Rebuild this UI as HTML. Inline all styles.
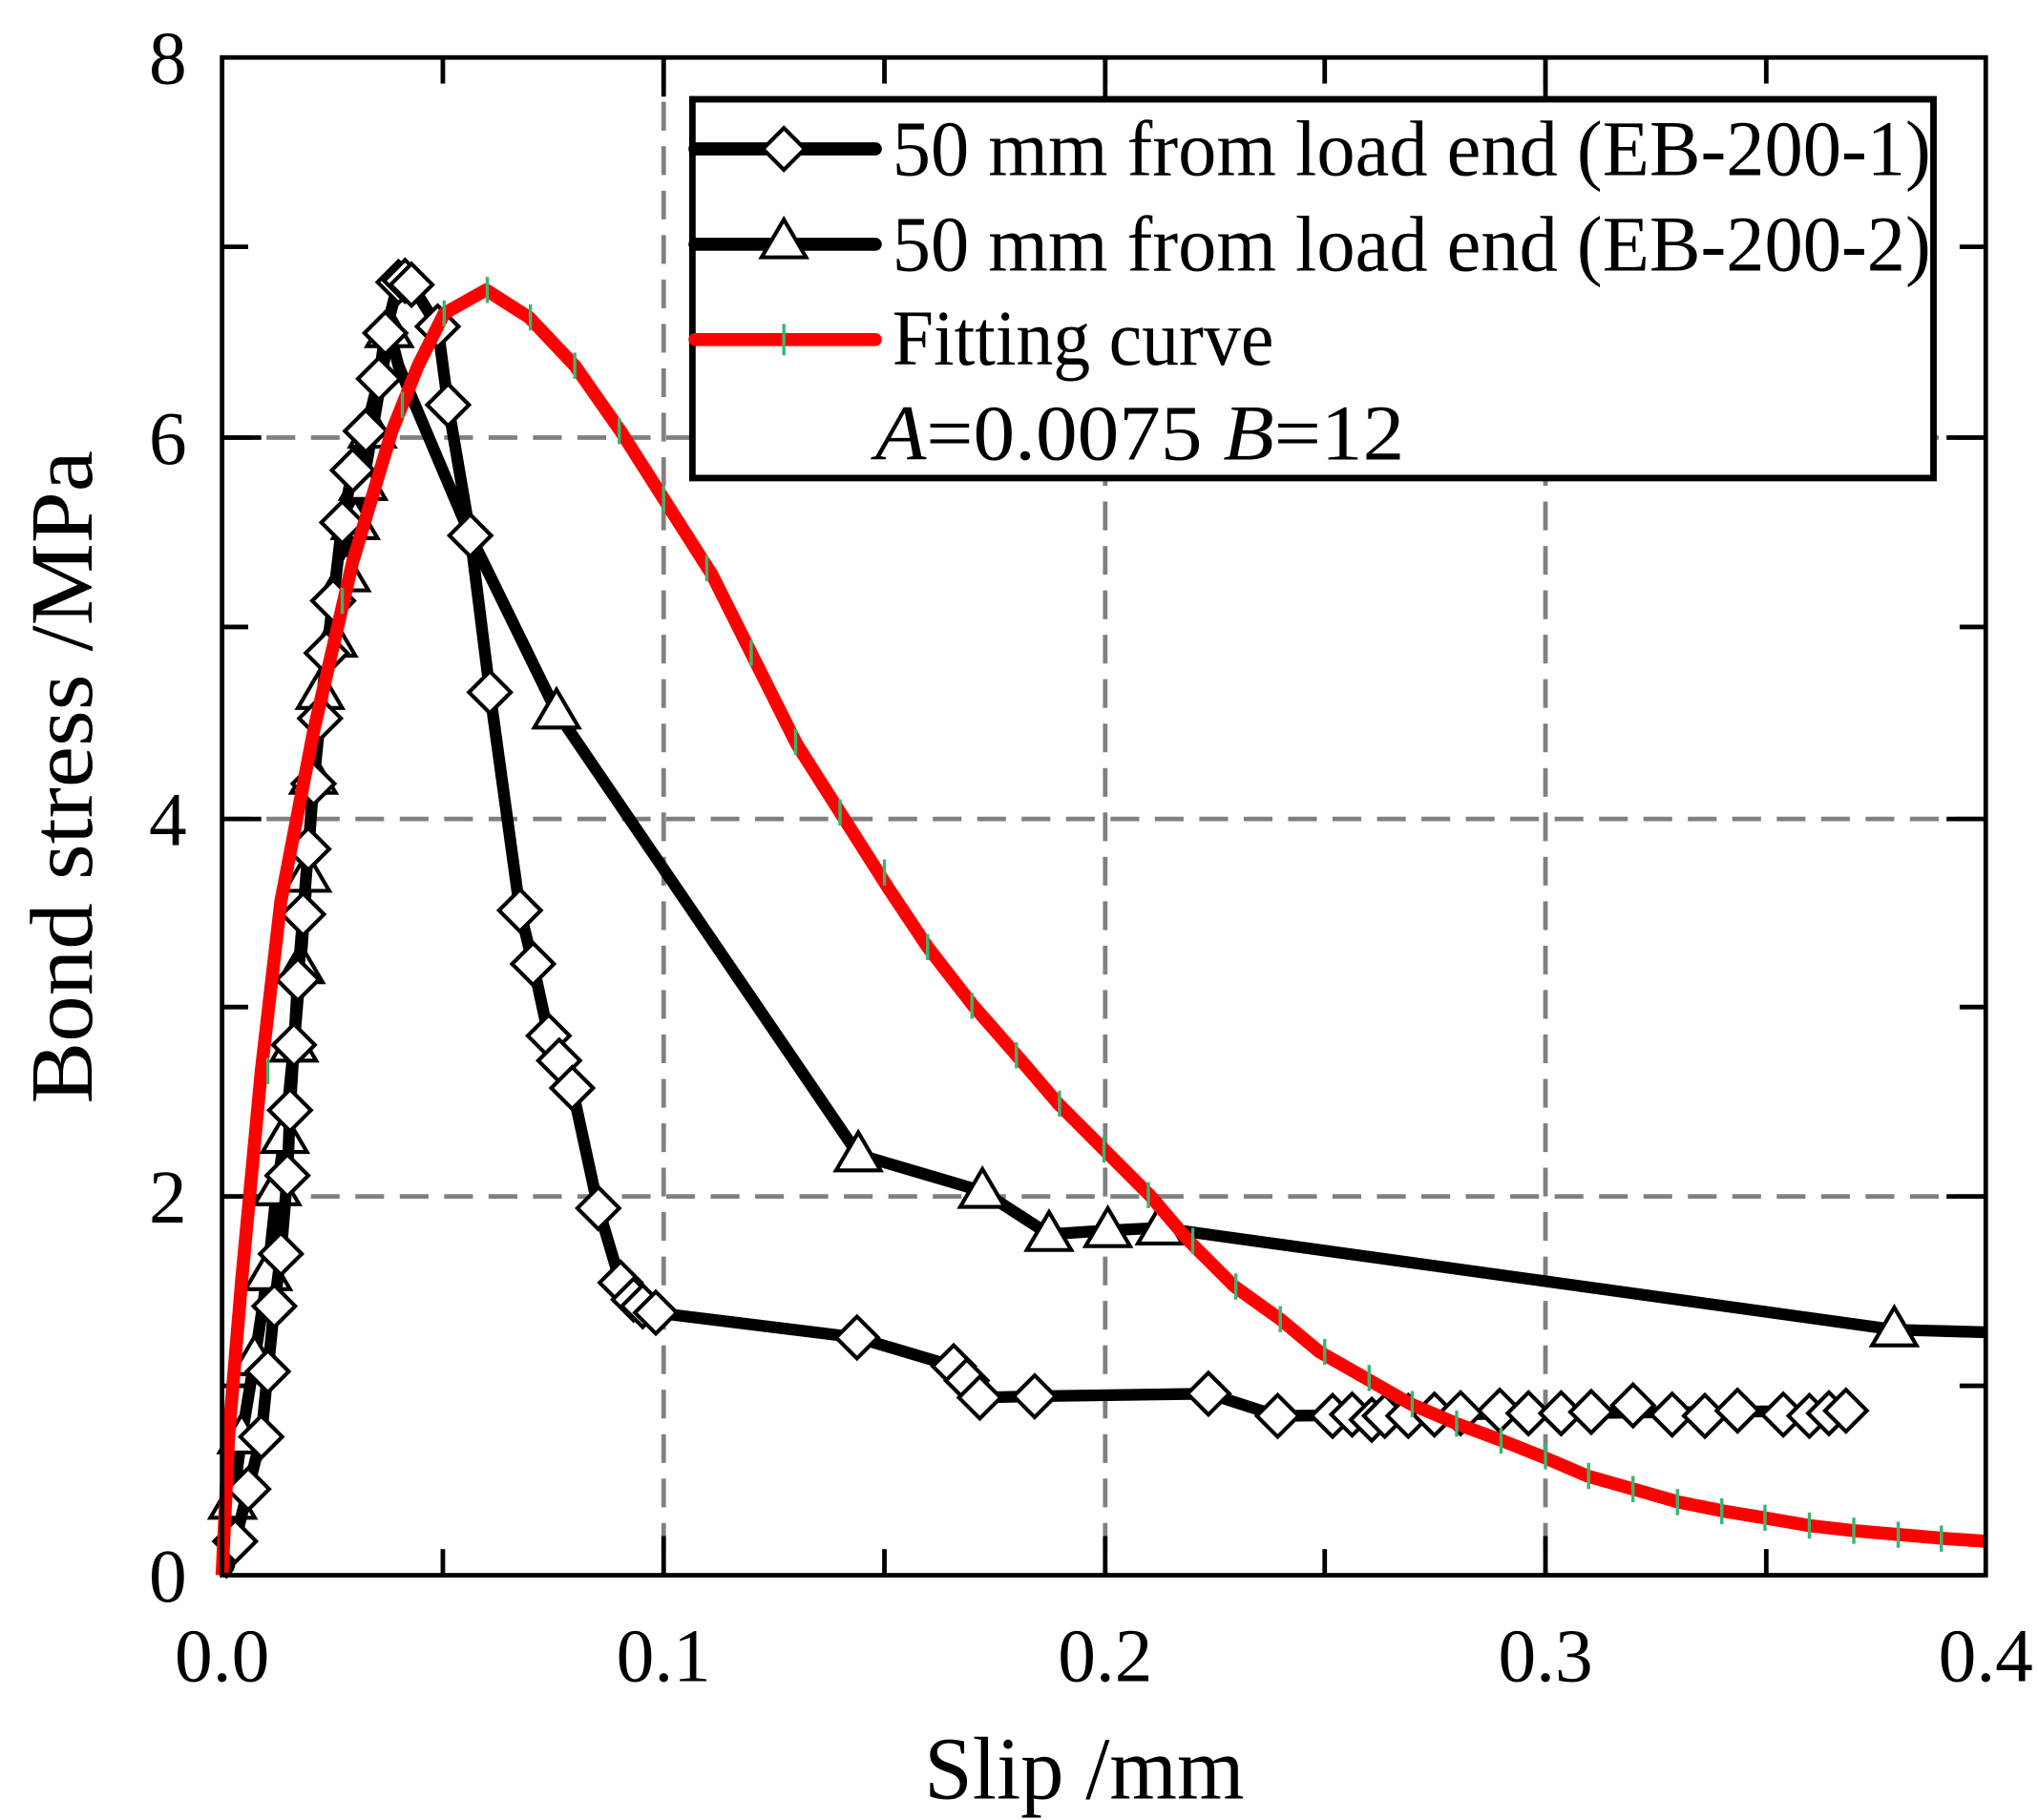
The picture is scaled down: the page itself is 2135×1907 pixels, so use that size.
<!DOCTYPE html>
<html><head><meta charset="utf-8"><style>html,body{margin:0;padding:0;background:#fff}svg{display:block}</style></head>
<body>
<svg xmlns="http://www.w3.org/2000/svg" width="2135" height="1907" viewBox="0 0 1560 1393.4" font-family="Liberation Serif, serif">
<defs>
<path id="dm" d="M0,-16 L16,0 L0,16 L-16,0 Z" fill="#fff" stroke="#000" stroke-width="3"/>
<path id="tr" d="M0,-17 L17,12 L-17,12 Z" fill="#fff" stroke="#000" stroke-width="3"/>
</defs>
<rect width="1560" height="1393.4" fill="#fff"/>
<g stroke="#808080" stroke-width="3.5" stroke-dasharray="22,12" fill="none">
<line x1="508" y1="44" x2="508" y2="1206"/><line x1="846" y1="44" x2="846" y2="1206"/><line x1="1183" y1="44" x2="1183" y2="1206"/>
<line x1="170" y1="335" x2="1520" y2="335"/><line x1="170" y1="627" x2="1520" y2="627"/><line x1="170" y1="916" x2="1520" y2="916"/>
</g>
<g stroke="#000" stroke-width="3.5">
<line x1="170" y1="189" x2="190" y2="189"/><line x1="170" y1="480" x2="190" y2="480"/><line x1="170" y1="771" x2="190" y2="771"/><line x1="170" y1="1061" x2="190" y2="1061"/>
<line x1="170" y1="335" x2="200" y2="335"/><line x1="170" y1="627" x2="200" y2="627"/><line x1="170" y1="916" x2="200" y2="916"/>
<line x1="1500" y1="189" x2="1520" y2="189"/><line x1="1500" y1="480" x2="1520" y2="480"/><line x1="1500" y1="771" x2="1520" y2="771"/><line x1="1500" y1="1061" x2="1520" y2="1061"/>
<line x1="1490" y1="335" x2="1520" y2="335"/><line x1="1490" y1="627" x2="1520" y2="627"/><line x1="1490" y1="916" x2="1520" y2="916"/>
<line x1="339" y1="1206" x2="339" y2="1186"/><line x1="677" y1="1206" x2="677" y2="1186"/><line x1="1014" y1="1206" x2="1014" y2="1186"/><line x1="1352" y1="1206" x2="1352" y2="1186"/>
<line x1="508" y1="1206" x2="508" y2="1176"/><line x1="846" y1="1206" x2="846" y2="1176"/><line x1="1183" y1="1206" x2="1183" y2="1176"/>
<line x1="508" y1="44" x2="508" y2="74"/><line x1="846" y1="44" x2="846" y2="74"/><line x1="1183" y1="44" x2="1183" y2="74"/>
<line x1="339" y1="44" x2="339" y2="64"/><line x1="677" y1="44" x2="677" y2="64"/><line x1="1014" y1="44" x2="1014" y2="64"/><line x1="1352" y1="44" x2="1352" y2="64"/>
</g>
<polyline fill="none" stroke="#000" stroke-width="9" stroke-linejoin="round" points="170,1206 178,1150 185,1100 195,1040 205,975 212,910 218,870 225,800 230,740 235,670 240,595 245,530 255,490 265,440 272,400 278,370 285,330 298,253 305,280 360,410 426,545 657,884 752,912 803,945 848,942 888,940 1450,1018 1520,1020"/>
<g>
<use href="#tr" x="178" y="1150"/><use href="#tr" x="185" y="1100"/><use href="#tr" x="195" y="1040"/><use href="#tr" x="205" y="975"/><use href="#tr" x="212" y="910"/><use href="#tr" x="218" y="870"/><use href="#tr" x="225" y="800"/><use href="#tr" x="230" y="740"/><use href="#tr" x="235" y="670"/><use href="#tr" x="240" y="595"/><use href="#tr" x="245" y="530"/><use href="#tr" x="255" y="490"/><use href="#tr" x="265" y="440"/><use href="#tr" x="272" y="400"/><use href="#tr" x="278" y="370"/><use href="#tr" x="285" y="330"/><use href="#tr" x="298" y="253"/>
<use href="#tr" x="426" y="545"/><use href="#tr" x="657" y="884"/><use href="#tr" x="752" y="912"/><use href="#tr" x="803" y="945"/><use href="#tr" x="848" y="942"/><use href="#tr" x="888" y="940"/><use href="#tr" x="1450" y="1018"/>
</g>
<polyline fill="none" stroke="#000" stroke-width="9" stroke-linejoin="round" points="170,1206 175,1200 180,1180 190,1140 200,1100 205,1050 210,1000 215,960 220,900 222,850 225,800 228,750 232,700 236,650 240,600 245,550 250,500 255,460 262,400 270,360 280,330 290,290 295,255 305,216 310,215 315,218 335,250 343,310 360,410 375,530 398,697 408,738 420,793 428,812 438,833 458,925 475,982 485,995 492,1000 502,1005 656,1024 730,1046 740,1057 750,1070 792,1069 925,1067 978,1084 1413,1080"/>
<g>
<use href="#dm" x="180" y="1180"/><use href="#dm" x="190" y="1140"/><use href="#dm" x="200" y="1100"/><use href="#dm" x="205" y="1050"/><use href="#dm" x="210" y="1000"/><use href="#dm" x="215" y="960"/><use href="#dm" x="220" y="900"/><use href="#dm" x="222" y="850"/><use href="#dm" x="225" y="800"/><use href="#dm" x="228" y="750"/><use href="#dm" x="232" y="700"/><use href="#dm" x="236" y="650"/><use href="#dm" x="240" y="600"/><use href="#dm" x="245" y="550"/><use href="#dm" x="250" y="500"/><use href="#dm" x="255" y="460"/><use href="#dm" x="262" y="400"/><use href="#dm" x="270" y="360"/><use href="#dm" x="280" y="330"/><use href="#dm" x="290" y="290"/><use href="#dm" x="295" y="255"/><use href="#dm" x="305" y="216"/><use href="#dm" x="310" y="215"/><use href="#dm" x="315" y="218"/><use href="#dm" x="335" y="250"/><use href="#dm" x="343" y="310"/><use href="#dm" x="360" y="410"/><use href="#dm" x="375" y="530"/><use href="#dm" x="398" y="697"/><use href="#dm" x="408" y="738"/><use href="#dm" x="420" y="793"/><use href="#dm" x="428" y="812"/><use href="#dm" x="438" y="833"/><use href="#dm" x="458" y="925"/><use href="#dm" x="475" y="982"/><use href="#dm" x="485" y="995"/><use href="#dm" x="492" y="1000"/><use href="#dm" x="502" y="1005"/><use href="#dm" x="656" y="1024"/><use href="#dm" x="730" y="1046"/><use href="#dm" x="740" y="1057"/><use href="#dm" x="750" y="1070"/><use href="#dm" x="792" y="1069"/><use href="#dm" x="925" y="1067"/><use href="#dm" x="978" y="1084"/><use href="#dm" x="1020" y="1084"/><use href="#dm" x="1035" y="1083"/><use href="#dm" x="1050" y="1087"/><use href="#dm" x="1060" y="1084"/><use href="#dm" x="1078" y="1084"/><use href="#dm" x="1098" y="1083"/><use href="#dm" x="1118" y="1082"/><use href="#dm" x="1148" y="1080"/><use href="#dm" x="1170" y="1082"/><use href="#dm" x="1195" y="1082"/><use href="#dm" x="1218" y="1081"/><use href="#dm" x="1250" y="1076"/><use href="#dm" x="1280" y="1083"/><use href="#dm" x="1305" y="1084"/><use href="#dm" x="1330" y="1080"/><use href="#dm" x="1365" y="1083"/><use href="#dm" x="1385" y="1084"/><use href="#dm" x="1400" y="1082"/><use href="#dm" x="1413" y="1080"/>
</g>
<polyline fill="none" stroke="#ff0000" stroke-width="10" stroke-linejoin="round" points="170,1206 175,1100 185,980 200,820 215,690 240,560 270,430 300,330 320,280 340,240 372,222 405,243 440,280 475,330 510,385 545,440 575,500 610,570 645,625 680,680 710,725 745,770 780,810 810,845 845,880 880,915 910,950 945,985 980,1010 1010,1035 1045,1055 1080,1075 1115,1090 1150,1103 1180,1115 1215,1130 1250,1140 1285,1150 1320,1157 1350,1162 1385,1168 1420,1172 1455,1175 1490,1178 1520,1180"/>
<g stroke="#3cb371" stroke-width="2.5">
<line x1="205" y1="810" x2="205" y2="830"/><line x1="262" y1="450" x2="262" y2="470"/><line x1="308" y1="300" x2="308" y2="320"/><line x1="340" y1="230" x2="340" y2="250"/><line x1="373" y1="212" x2="373" y2="232"/><line x1="406" y1="233" x2="406" y2="253"/><line x1="440" y1="270" x2="440" y2="290"/><line x1="474" y1="320" x2="474" y2="340"/><line x1="508" y1="372" x2="508" y2="392"/><line x1="541" y1="425" x2="541" y2="445"/><line x1="575" y1="490" x2="575" y2="510"/><line x1="609" y1="558" x2="609" y2="578"/><line x1="643" y1="612" x2="643" y2="632"/><line x1="677" y1="658" x2="677" y2="678"/><line x1="710" y1="715" x2="710" y2="735"/><line x1="744" y1="760" x2="744" y2="780"/><line x1="778" y1="798" x2="778" y2="818"/><line x1="811" y1="835" x2="811" y2="855"/><line x1="845" y1="870" x2="845" y2="890"/><line x1="879" y1="905" x2="879" y2="925"/><line x1="913" y1="940" x2="913" y2="960"/><line x1="946" y1="975" x2="946" y2="995"/><line x1="980" y1="1000" x2="980" y2="1020"/><line x1="1014" y1="1025" x2="1014" y2="1045"/><line x1="1048" y1="1045" x2="1048" y2="1065"/><line x1="1081" y1="1065" x2="1081" y2="1085"/><line x1="1115" y1="1080" x2="1115" y2="1100"/><line x1="1149" y1="1093" x2="1149" y2="1113"/><line x1="1183" y1="1105" x2="1183" y2="1125"/><line x1="1216" y1="1120" x2="1216" y2="1140"/><line x1="1250" y1="1130" x2="1250" y2="1150"/><line x1="1284" y1="1140" x2="1284" y2="1160"/><line x1="1318" y1="1147" x2="1318" y2="1167"/><line x1="1351" y1="1152" x2="1351" y2="1172"/><line x1="1385" y1="1158" x2="1385" y2="1178"/><line x1="1419" y1="1162" x2="1419" y2="1182"/><line x1="1453" y1="1165" x2="1453" y2="1185"/><line x1="1486" y1="1168" x2="1486" y2="1188"/>
</g>
<rect x="170" y="44" width="1350" height="1162" fill="none" stroke="#000" stroke-width="3.5"/>
<rect x="530" y="76" width="950" height="290" fill="#fff" stroke="#000" stroke-width="5"/>
<line x1="532" y1="114" x2="670" y2="114" stroke="#000" stroke-width="10" stroke-linecap="round"/><use href="#dm" x="600" y="114"/>
<line x1="532" y1="187" x2="670" y2="187" stroke="#000" stroke-width="10" stroke-linecap="round"/><use href="#tr" x="600" y="185"/>
<line x1="532" y1="260" x2="670" y2="260" stroke="#ff0000" stroke-width="10" stroke-linecap="round"/><line x1="600" y1="248" x2="600" y2="272" stroke="#3cb371" stroke-width="2.5"/>
<g font-size="60" fill="#000">
<text x="683" y="134" textLength="795" lengthAdjust="spacingAndGlyphs">50 mm from load end (EB-200-1)</text>
<text x="683" y="207" textLength="795" lengthAdjust="spacingAndGlyphs">50 mm from load end (EB-200-2)</text>
<text x="683" y="279" textLength="292" lengthAdjust="spacingAndGlyphs">Fitting curve</text>
<text x="670" y="352" textLength="405" lengthAdjust="spacingAndGlyphs"><tspan font-style="italic">A</tspan>=0.0075   <tspan font-style="italic">B</tspan>=12</text>
</g>
<g font-size="58" fill="#000">
<text x="143" y="64" text-anchor="end">8</text>
<text x="143" y="355" text-anchor="end">6</text>
<text x="143" y="647" text-anchor="end">4</text>
<text x="143" y="936" text-anchor="end">2</text>
<text x="143" y="1226" text-anchor="end">0</text>
<text x="170" y="1287" text-anchor="middle">0.0</text>
<text x="508" y="1287" text-anchor="middle">0.1</text>
<text x="846" y="1287" text-anchor="middle">0.2</text>
<text x="1183" y="1287" text-anchor="middle">0.3</text>
<text x="1520" y="1287" text-anchor="middle">0.4</text>
</g>
<text x="830" y="1377" font-size="68" text-anchor="middle" textLength="245" lengthAdjust="spacingAndGlyphs">Slip /mm</text>
<text transform="translate(70,595) rotate(-90)" font-size="68" text-anchor="middle" textLength="500" lengthAdjust="spacingAndGlyphs">Bond stress /MPa</text>
</svg>
</body></html>
